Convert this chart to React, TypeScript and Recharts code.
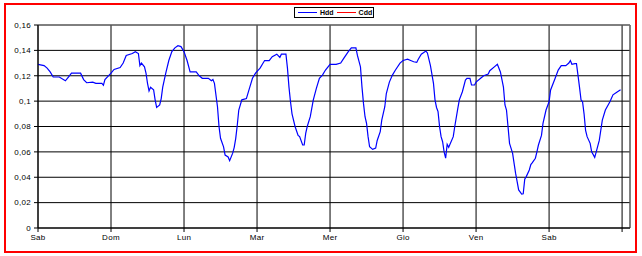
import React from 'react';
import { LineChart, Line, XAxis, YAxis, CartesianGrid, Legend, ReferenceLine } from 'recharts';

// hours since the first Saturday 00:00
const hours = [
  0, 2, 3, 4, 5, 7, 9, 10, 11, 14, 15, 16, 18, 19, 21, 21.5, 22,
  24, 25, 27, 28, 29, 31, 32, 33, 33.5, 34, 35, 35.5, 36, 36.5, 37, 38, 38.5, 39, 40, 40.5, 41, 42, 43, 44, 45, 46, 47,
  48, 49, 50, 51, 52, 53, 54, 56, 57, 57.5, 58, 59, 59.5, 60, 61, 61.5, 62.5, 63, 64, 64.5, 65, 65.5, 66, 67, 68.5, 69.5, 70.5, 71.5,
  73, 74, 74.5, 76, 77, 78.5, 79.5, 80, 81.5, 82, 82.5, 83, 83.5, 84.5, 85.5, 86, 87, 87.5, 88, 88.5, 89.5, 90.5, 91.5, 92.5, 93.5, 94.5,
  96, 98, 99.5, 100.5, 102, 103, 104.5, 105, 106, 106.5, 107, 107.5, 108, 108.5, 109, 110, 111, 111.5, 112.5, 113, 114, 114.5, 115.5, 116.5, 117.5, 119,
  120, 121.5, 122.5, 123.5, 124.5, 125, 126, 127.5, 128, 129, 130, 130.5, 131, 131.5, 132, 132.5, 133, 133.5, 134, 134.5, 135, 136.5, 137, 138, 138.5, 139.5, 140.5, 141, 142, 142.5, 143.5,
  144, 145.5, 146.5, 148, 148.5, 150, 151, 152, 153, 153.5, 154, 154.5, 155, 156, 156.5, 157, 157.5, 158, 159, 159.5, 160, 160.5, 161.5, 162, 162.5, 163.5, 164, 164.5, 165.5, 166, 167,
  168, 168.5, 170, 171, 172, 173.5, 174.5, 175, 175.5, 176.5, 177, 177.5, 178, 178.5, 179, 179.5, 180, 180.5, 181.5, 182, 183, 183.5, 184.5, 185.5, 186.5, 188, 189, 190.5, 191.5,
];

const hdd = [
  0.129, 0.128, 0.126, 0.123, 0.119, 0.119, 0.116, 0.119, 0.122, 0.122, 0.117, 0.1145, 0.115, 0.114, 0.114, 0.1125, 0.117,
  0.122, 0.125, 0.1265, 0.13, 0.136, 0.1375, 0.139, 0.1375, 0.128, 0.13, 0.127, 0.122, 0.114, 0.108, 0.111, 0.109, 0.101, 0.095, 0.097, 0.102, 0.111, 0.122, 0.132, 0.139, 0.142, 0.1437, 0.143,
  0.139, 0.132, 0.123, 0.123, 0.123, 0.12, 0.118, 0.118, 0.116, 0.117, 0.114, 0.0956, 0.08, 0.0707, 0.064, 0.0575, 0.056, 0.053, 0.059, 0.0636, 0.0707, 0.081, 0.093, 0.101, 0.102, 0.11, 0.118, 0.122,
  0.126, 0.13, 0.132, 0.132, 0.135, 0.137, 0.1345, 0.137, 0.137, 0.126, 0.111, 0.0995, 0.09, 0.08, 0.073, 0.072, 0.0654, 0.0654, 0.0746, 0.08, 0.0877, 0.101, 0.11, 0.118, 0.1205, 0.1245,
  0.129, 0.129, 0.13, 0.1337, 0.139, 0.142, 0.142, 0.136, 0.127, 0.111, 0.098, 0.0877, 0.0825, 0.072, 0.064, 0.062, 0.063, 0.069, 0.076, 0.085, 0.0956, 0.106, 0.115, 0.1205, 0.1245, 0.13,
  0.132, 0.133, 0.132, 0.131, 0.1305, 0.133, 0.137, 0.1395, 0.138, 0.128, 0.114, 0.101, 0.095, 0.0917, 0.08, 0.072, 0.068, 0.06, 0.055, 0.066, 0.0636, 0.072, 0.08, 0.0943, 0.101, 0.1074, 0.1166, 0.118, 0.118, 0.1127, 0.1127,
  0.115, 0.118, 0.12, 0.1213, 0.124, 0.127, 0.129, 0.123, 0.111, 0.097, 0.093, 0.08, 0.0667, 0.059, 0.051, 0.043, 0.0365, 0.03, 0.0268, 0.027, 0.0384, 0.0405, 0.0457, 0.05, 0.0515, 0.055, 0.06, 0.0654, 0.073, 0.0825, 0.093,
  0.0995, 0.1088, 0.118, 0.1245, 0.128, 0.128, 0.13, 0.132, 0.129, 0.1295, 0.1295, 0.1205, 0.111, 0.101, 0.0995, 0.09, 0.077, 0.072, 0.0667, 0.06, 0.0557, 0.06, 0.069, 0.085, 0.093, 0.0995, 0.105, 0.1074, 0.109,
];

const dayTicks = [0, 24, 48, 72, 96, 120, 144, 168, 192];
const dayLabels = ['Sab', 'Dom', 'Lun', 'Mar', 'Mer', 'Gio', 'Ven', 'Sab', ''];
const yTicks = [0, 0.02, 0.04, 0.06, 0.08, 0.1, 0.12, 0.14, 0.16];

// series shown in the legend, in this order
const seriesNames = ['Hdd', 'Cdd'];
const seriesColors: Record<string, string> = { Hdd: '#0000ff', Cdd: '#ff0000' };

const data = hours.map((h, i) => ({ h, hdd: hdd[i] }));

const fmtY = (v: number) => String(Number(v.toFixed(2))).replace('.', ',');
const fmtX = (v: number) => dayLabels[dayTicks.indexOf(v)] ?? '';

const tickStyle = { fontSize: 8, fontFamily: 'Liberation Sans, Arial, sans-serif', fill: '#000', letterSpacing: 0.3 };

const renderLegend = () => (
  <div
    style={{
      display: 'flex',
      alignItems: 'center',
      border: '1px solid #000',
      background: '#fff',
      height: 11,
      padding: '0 3px',
      boxSizing: 'border-box',
      fontFamily: 'Liberation Sans, Arial, sans-serif',
      fontSize: 7,
      fontWeight: 'bold',
      color: '#000',
    }}
  >
    {seriesNames.map((name) => (
      <div key={name} style={{ display: 'flex', alignItems: 'center', marginRight: 3 }}>
        <div style={{ width: 19, height: 1, background: seriesColors[name], marginRight: 3 }} />
        <span style={{ color: '#000' }}>{name}</span>
      </div>
    ))}
  </div>
);

export default function App() {
  return (
    <div style={{ position: 'absolute', left: 0, top: 0, width: 642, height: 256, background: '#fff' }}>
      <div
        style={{
          position: 'absolute',
          left: 4,
          top: 3,
          width: 633,
          height: 250,
          border: '2px solid #ff0000',
          boxSizing: 'border-box',
        }}
      />
      <LineChart
        width={642}
        height={256}
        data={data}
        margin={{ top: 25, right: 12, bottom: 0, left: 0 }}
        style={{ position: 'absolute', left: 0, top: 0 }}
      >
        <CartesianGrid stroke="#000" strokeWidth={1} />
        <XAxis
          dataKey="h"
          type="number"
          domain={[0, 194.6]}
          ticks={dayTicks}
          tickFormatter={fmtX}
          height={28}
          tickSize={4}
          tickMargin={2}
          stroke="#000"
          tick={tickStyle}
          interval={0}
        />
        <YAxis
          type="number"
          domain={[0, 0.16]}
          ticks={yTicks}
          tickFormatter={fmtY}
          width={38}
          tickSize={4}
          tickMargin={3}
          stroke="#000"
          tick={tickStyle}
          interval={0}
        />
        <ReferenceLine y={0.16} stroke="#808080" />
        <ReferenceLine x={194.6} stroke="#808080" />
        <Legend
          layout="horizontal"
          verticalAlign="middle"
          align="center"
          content={renderLegend}
          wrapperStyle={{ left: 294, top: 7, width: 80, height: 11 }}
        />
        <Line type="linear" dataKey="hdd" name="Hdd" stroke={seriesColors.Hdd} strokeWidth={1.2} dot={false} isAnimationActive={false} />
        <Line type="linear" dataKey="cdd" name="Cdd" stroke={seriesColors.Cdd} strokeWidth={1.2} dot={false} isAnimationActive={false} />
      </LineChart>
    </div>
  );
}
